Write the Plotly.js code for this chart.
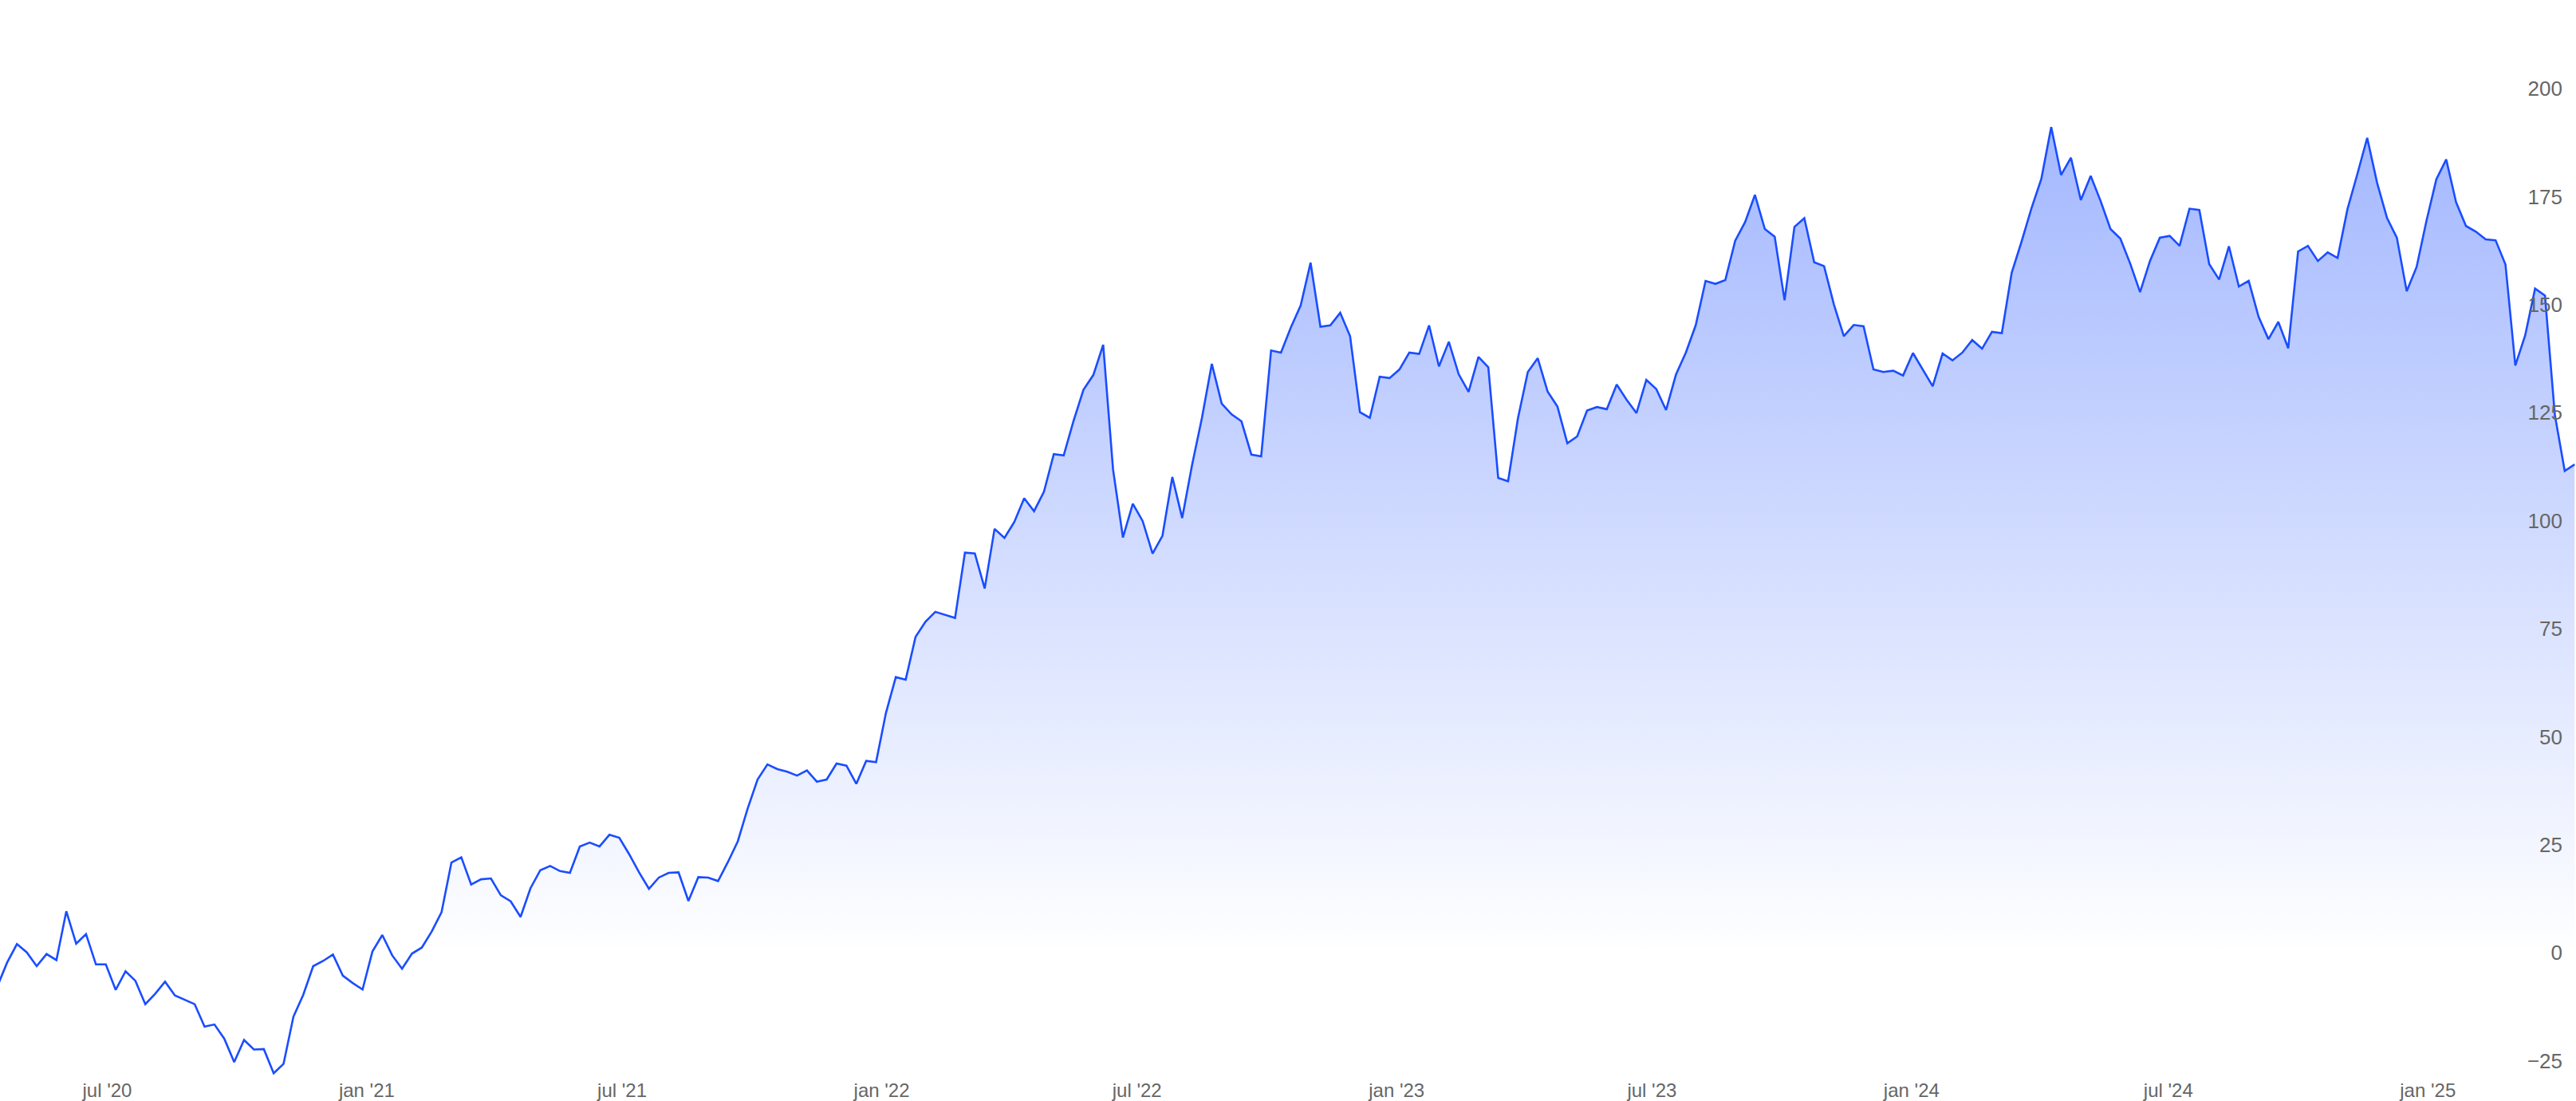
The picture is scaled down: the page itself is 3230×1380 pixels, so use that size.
<!DOCTYPE html>
<html>
<head>
<meta charset="utf-8">
<script src="https://cdn.plot.ly/plotly-3.0.1.min.js"></script>
<style>
  html, body { margin: 0; padding: 0; background: #ffffff; }
  #chart { width: 3230px; height: 1380px; }
</style>
</head>
<body>
<div id="chart"></div>
<script>
// Weekly closes, one array per calendar year (first point is 2020-04-14, then every 7 days)
const firstWeek = '2020-04-14';
const values2020 = [-7.9, -2.3, 2.0, 0.1, -3.1, -0.3, -1.7, 9.6, 2.1, 4.3, -2.7, -2.7, -8.6, -4.3, -6.5, -11.9, -9.5, -6.7, -9.9, -10.9, -11.9, -17.1, -16.6, -19.9, -25.3, -20.2, -22.4, -22.3, -27.9, -25.7, -14.8, -9.7, -3.1, -1.9, -0.4, -5.3, -7.0, -8.5];
const values2021 = [0.3, 4.1, -0.6, -3.7, -0.2, 1.2, 4.9, 9.4, 20.9, 22.1, 15.8, 17.0, 17.2, 13.3, 11.9, 8.3, 14.9, 19.1, 20.1, 18.9, 18.5, 24.6, 25.5, 24.6, 27.3, 26.6, 22.8, 18.6, 14.8, 17.4, 18.5, 18.6, 12.0, 17.5, 17.4, 16.6, 21.0, 25.8, 33.4, 40.1, 43.6, 42.5, 41.9, 41.0, 42.2, 39.6, 40.1, 43.8, 43.3, 39.1, 44.4, 44.1];
const values2022 = [55.5, 63.8, 63.2, 73.1, 76.6, 78.9, 78.2, 77.5, 92.6, 92.4, 84.3, 98.1, 96.0, 99.7, 105.2, 102.2, 106.7, 115.4, 115.1, 123.1, 130.3, 133.7, 140.7, 111.8, 96.1, 103.9, 99.9, 92.4, 96.5, 110.1, 100.6, 112.9, 123.8, 136.3, 127.1, 124.6, 123.0, 115.3, 114.9, 139.4, 138.9, 144.7, 149.8, 159.7, 144.9, 145.2, 148.1, 142.7, 125.1, 123.8, 133.3, 133.0];
const values2023 = [135.0, 138.9, 138.6, 145.2, 135.7, 141.4, 133.9, 129.8, 137.9, 135.5, 109.9, 109.1, 123.7, 134.4, 137.6, 129.9, 126.4, 117.9, 119.5, 125.5, 126.3, 125.8, 131.5, 128.0, 124.9, 132.6, 130.5, 125.6, 133.8, 138.9, 145.2, 155.5, 154.8, 155.7, 164.8, 169.1, 175.4, 167.5, 165.7, 151.0, 168.0, 170.0, 159.8, 158.9, 150.0, 142.7, 145.3, 145.0, 135.0, 134.4, 134.7, 133.6];
const values2024 = [138.8, 135.0, 131.1, 138.7, 137.1, 138.9, 141.8, 139.8, 143.7, 143.4, 157.4, 164.6, 172.3, 179.1, 191.1, 180.0, 184.0, 174.2, 179.8, 174.0, 167.5, 165.3, 159.5, 152.9, 160.1, 165.5, 165.9, 163.6, 172.2, 171.9, 159.4, 155.8, 163.5, 154.2, 155.5, 147.2, 142.0, 146.0, 139.9, 162.3, 163.6, 160.1, 162.1, 160.8, 172.1, 180.2, 188.6, 178.2, 170.1, 165.5, 153.1, 158.7, 169.4];
const values2025 = [179.0, 183.6, 173.7, 168.2, 166.9, 165.1, 164.9, 159.3, 135.9, 142.9, 153.7, 152.1, 124.5, 111.5, 113.0];

const xTickVals = ['2020-07-01', '2021-01-01', '2021-07-01', '2022-01-01', '2022-07-01', '2023-01-01', '2023-07-01', '2024-01-01', '2024-07-01', '2025-01-01'];
const xTickText = ["jul '20", "jan '21", "jul '21", "jan '22", "jul '22", "jan '23", "jul '23", "jan '24", "jul '24", "jan '25"];
const yTickVals = [-25, 0, 25, 50, 75, 100, 125, 150, 175, 200];
const xRange = ['2020-04-16', '2025-04-16'];

const values = [].concat(values2020, values2021, values2022, values2023, values2024, values2025);
const dates = [];
{
  const d0 = new Date(firstWeek + 'T00:00:00Z');
  for (let i = 0; i < values.length; i++) {
    const d = new Date(d0.getTime() + i * 7 * 86400000);
    dates.push(d.toISOString().slice(0, 10));
  }
}

const trace = {
  type: 'scatter',
  mode: 'lines',
  x: dates,
  y: values,
  line: { color: '#1a4dff', width: 2.6 },
  fill: 'tozeroy',
  fillgradient: {
    type: 'vertical',
    start: 0,
    stop: Math.max.apply(null, values),
    colorscale: [[0, 'rgba(26,77,255,0)'], [1, 'rgba(26,77,255,0.4)']]
  },
  hoverinfo: 'x+y'
};

const fontFam = '"Liberation Sans", Arial, Helvetica, sans-serif';
const layout = {
  width: 3230,
  height: 1380,
  margin: { l: 0, r: 0, t: 0, b: 30, pad: 0 },
  paper_bgcolor: '#ffffff',
  plot_bgcolor: '#ffffff',
  showlegend: false,
  font: { family: fontFam, color: '#666666' },
  xaxis: {
    type: 'date',
    range: xRange,
    tickvals: xTickVals,
    ticktext: xTickText,
    showgrid: false,
    zeroline: false,
    showline: false,
    ticks: '',
    tickfont: { family: fontFam, size: 24, color: '#666666' }
  },
  yaxis: {
    side: 'right',
    range: [-28.77, 220.5],
    tickvals: yTickVals,
    ticklabelposition: 'inside',
    ticklabelstandoff: 14,
    showgrid: false,
    zeroline: false,
    showline: false,
    ticks: '',
    tickfont: { family: fontFam, size: 26, color: '#666666' }
  }
};

Plotly.newPlot('chart', [trace], layout, { displayModeBar: false, staticPlot: true });
</script>
</body>
</html>
